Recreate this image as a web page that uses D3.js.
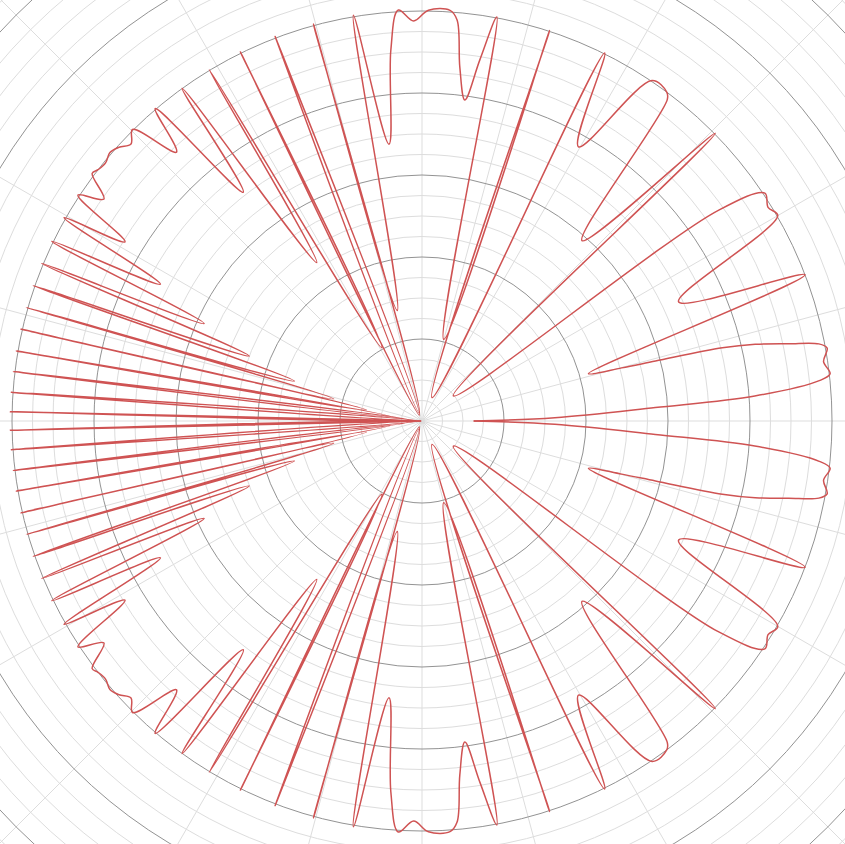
<!DOCTYPE html>
<html>
<head>
<meta charset="utf-8">
<script src="https://cdn.jsdelivr.net/npm/d3@7"></script>
<style>
  html, body { margin: 0; padding: 0; background: #fff; }
  svg { display: block; }
</style>
</head>
<body>
<div id="chart"></div>
<script>
// upper half of the curve (the lower half is its mirror image)
// angle in degrees, counter-clockwise from the right; radius in grid units
var curveAngles = [0, 1.4, 3.3, 4.3, 5.8, 6.6, 8.4, 10.2, 11.0, 11.9, 12.97, 13.7, 14.4, 14.9, 15.85,
  20.9, 24.9, 30.0, 31.7, 33.6, 35.4, 38.8, 44.45, 48.4, 52.65, 53.35, 55.95, 60.3, 63.6, 66.8,
  71.9, 75.1, 79.5, 80.9, 82.4, 83.9, 85.0, 86.1, 89.1, 91.2, 93.3, 94.8, 96.8, 99.6, 102.6,
  105.3, 108.2, 110.9, 113.6, 116.2, 118.8, 121.2, 123.6, 125.8, 128.0, 130.5, 132.4, 134.8,
  136.4, 137.9, 139.3, 140.8, 142.2, 143.1, 145.1, 146.7, 148.9, 150.4, 152.4, 154.1, 155.9,
  157.5, 159.4, 160.8, 162.6, 164.0, 165.9, 167.1, 168.8, 170.2, 171.7, 173.1, 174.5, 176.0,
  177.4, 178.7, 180];
var curveRadii = [0.63, 1.62, 2.85, 4.07, 4.87, 5.01, 4.95, 5.02, 4.93, 4.57, 4.17, 3.77, 2.94, 2.52, 2.11,
  5.0, 3.45, 5.01, 4.96, 5.02, 4.44, 0.49, 5.01, 2.94, 4.93, 5.0, 5.01, 3.85, 5.01, 0.31,
  5.01, 1.03, 5.01, 4.46, 3.95, 4.34, 4.91, 5.02, 5.01, 4.88, 5.02, 4.54, 3.40, 5.02, 1.38,
  5.02, 0.10, 5.02, 0.08, 5.02, 1.02, 5.01, 2.32, 5.0, 3.54, 5.01, 4.44, 5.01,
  4.90, 4.98, 5.02, 4.98, 5.0, 5.03, 4.73, 5.02, 4.23, 5.02, 3.60, 5.02, 2.91,
  5.02, 2.25, 5.02, 1.63, 5.02, 1.11, 5.02, 0.69, 5.02, 0.39, 5.02, 0.17, 5.02,
  0.06, 5.02, 0.01];

// grid
var ringValues = d3.range(0.25, 8.01, 0.25);
var spokeAngles = d3.range(0, 360, 15);

var width = 845, height = 844;
var cx = 422, cy = 421;

var svg = d3.select("#chart")
  .append("svg")
  .attr("width", width)
  .attr("height", height);

var g = svg.append("g")
  .attr("transform", `translate(${cx}, ${cy})`);

var r = d3.scaleLinear().domain([0, 5]).range([0, 410]);
// math angle (deg) -> d3 radial angle (radians, clockwise from top)
var a = d3.scaleLinear().domain([0, 180]).range([Math.PI / 2, -Math.PI / 2]);

// light rings first, then the unit rings on top
g.selectAll("circle.minor")
  .data(ringValues.filter(v => v % 1 !== 0))
  .enter().append("circle")
  .attr("class", "minor")
  .attr("r", d => r(d))
  .style("fill", "none")
  .style("stroke", "#dddddd")
  .style("stroke-width", 1);

g.selectAll("line.spoke")
  .data(spokeAngles)
  .enter().append("line")
  .attr("class", "spoke")
  .attr("x1", 0).attr("y1", 0)
  .attr("x2", d => r(9) * Math.cos(d * Math.PI / 180))
  .attr("y2", d => -r(9) * Math.sin(d * Math.PI / 180))
  .style("stroke", "#dddddd")
  .style("stroke-width", 1);

g.selectAll("circle.major")
  .data(ringValues.filter(v => v % 1 === 0))
  .enter().append("circle")
  .attr("class", "major")
  .attr("r", d => r(d))
  .style("fill", "none")
  .style("stroke", "#939393")
  .style("stroke-width", 1);

// the curve
var points = curveAngles.map((d, i) => ({deg: d, val: curveRadii[i]}));

var line = d3.lineRadial()
  .angle(d => a(d.deg))
  .radius(d => r(d.val))
  .curve(d3.curveCatmullRom.alpha(0.5));

g.append("path")
  .datum(points)
  .attr("d", line)
  .style("fill", "none")
  .style("stroke", "#cf5353")
  .style("stroke-width", 1.5);

// lower half: same data, reflected across the horizontal axis
g.append("path")
  .datum(points)
  .attr("d", line)
  .attr("transform", "scale(1,-1)")
  .style("fill", "none")
  .style("stroke", "#cf5353")
  .style("stroke-width", 1.5);
</script>
</body>
</html>
